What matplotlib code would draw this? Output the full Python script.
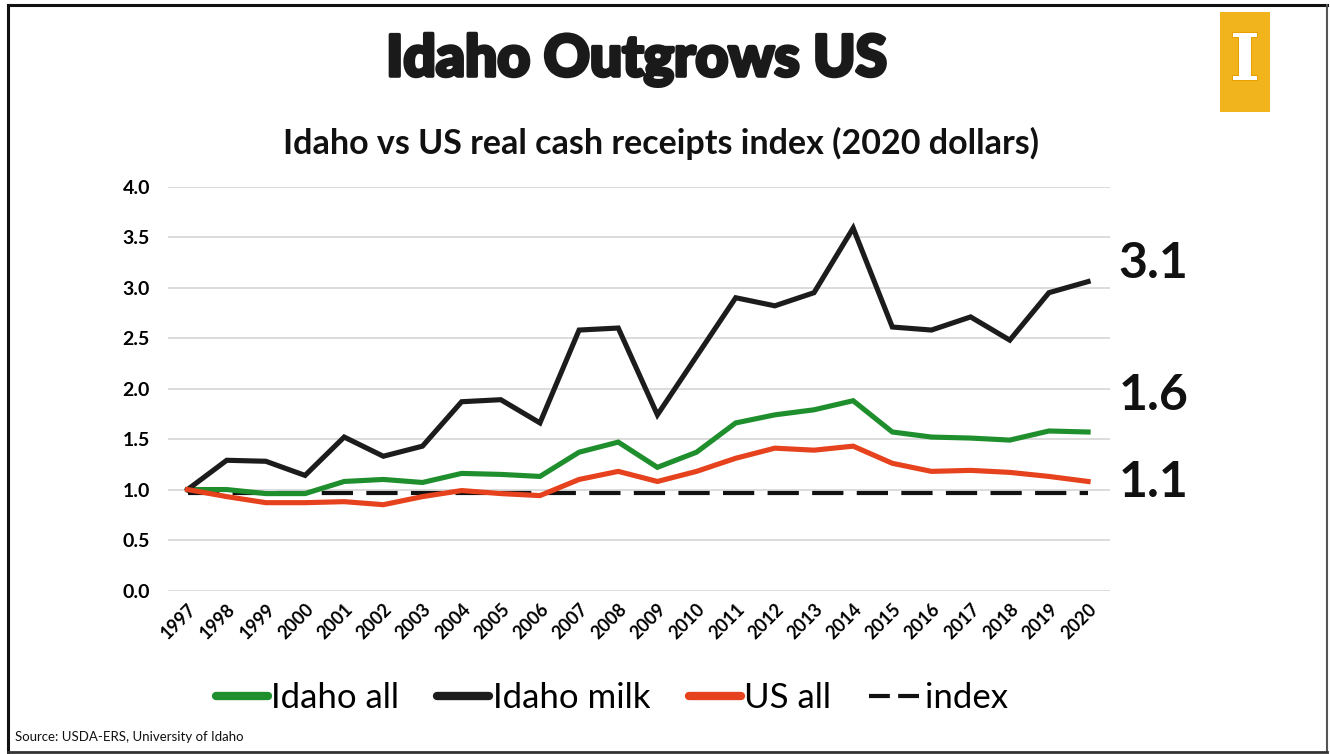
import numpy as np
import matplotlib.pyplot as plt
import matplotlib.patheffects as pe
from matplotlib.patches import Rectangle
from matplotlib.lines import Line2D

# Real cash receipts index, 1997 = 1.0 (2020 dollars)
years = list(range(1997, 2021))
idaho_all = [1.00, 1.00, 0.96, 0.96, 1.08, 1.10, 1.07, 1.16, 1.15, 1.13, 1.37, 1.47,
             1.22, 1.37, 1.66, 1.74, 1.79, 1.88, 1.57, 1.52, 1.51, 1.49, 1.58, 1.57]
idaho_milk = [1.00, 1.29, 1.28, 1.14, 1.52, 1.33, 1.43, 1.87, 1.89, 1.66, 2.58, 2.60,
              1.74, 2.32, 2.90, 2.82, 2.95, 3.59, 2.61, 2.58, 2.71, 2.48, 2.95, 3.06]
us_all = [1.00, 0.93, 0.87, 0.87, 0.88, 0.85, 0.93, 0.99, 0.96, 0.94, 1.10, 1.18,
          1.08, 1.18, 1.31, 1.41, 1.39, 1.43, 1.26, 1.18, 1.19, 1.17, 1.13, 1.08]
index_line = [0.97] * len(years)

series_names = ['Idaho all', 'Idaho milk', 'US all']
series_colors = ['#1f8f2e', '#1c1c1c', '#e5421d']

plt.rcParams['font.family'] = ['Lato', 'DejaVu Sans']

fig = plt.figure(figsize=(13.3, 7.54), dpi=100)
fig.patch.set_facecolor('white')

ax = fig.add_axes([168 / 1330, 1 - 590.5 / 754, (1110 - 168) / 1330, (590.5 - 186.7) / 754])
ax.set_xlim(1996.5, 2020.56)
ax.set_ylim(0, 4)

# gridlines only, no box
ax.set_yticks(np.arange(0, 4.01, 0.5))
ax.yaxis.grid(True, color='#d9d9d9', linewidth=1.3)
ax.set_axisbelow(True)
for s in ax.spines.values():
    s.set_visible(False)
ax.tick_params(axis='both', length=0)
ax.tick_params(axis='y', pad=13)
ax.set_yticklabels([f'{v:.1f}' for v in np.arange(0, 4.01, 0.5)], fontsize=14, fontweight='bold')
ax.set_xticks(years)
ax.set_xticklabels([str(y) for y in years], rotation=45, ha='right', va='top',
                   rotation_mode='anchor', fontsize=13, fontweight='bold')
ax.tick_params(axis='x', pad=7)

ax.plot(years, index_line, color='#111111', linewidth=3, linestyle=(0, (7.5, 3.2)),
        solid_capstyle='butt', zorder=2)
all_series = [idaho_all, idaho_milk, us_all]
for vals, name, col in zip(all_series, series_names, series_colors):
    ax.plot(years, vals, color=col, linewidth=3.7, label=name, zorder=3,
            solid_joinstyle='miter')

# end-of-series values to the right of the plot
label_shift = {'Idaho milk': 18, 'Idaho all': 37, 'US all': -1}
for vals, name in zip(all_series, series_names):
    ax.annotate(f'{vals[-1]:.1f}', xy=(years[-1], vals[-1]), xytext=(22, label_shift[name] * 0.72),
                textcoords='offset points', ha='left', va='center', fontsize=36,
                fontweight='bold', color='#111111', annotation_clip=False)

# legend
handles = [Line2D([], [], color=c, linewidth=6, solid_capstyle='round') for c in series_colors]
handles.append(Line2D([], [], color='#111111', linewidth=3, linestyle=(0, (5, 2))))
fig.legend(handles, series_names + ['index'], loc='center', bbox_to_anchor=(0.46, 1 - 698 / 754),
           ncol=4, frameon=False, fontsize=25, handlelength=1.5, handletextpad=0.1,
           columnspacing=1.1)

# titles
fig.text(0.479, 1 - 60 / 754, 'Idaho Outgrows US', ha='center', va='center',
         fontsize=41, fontweight='black', color='#1a1a1a',
         path_effects=[pe.withStroke(linewidth=2.6, foreground='#1a1a1a')])
fig.text(0.497, 1 - 143 / 754, 'Idaho vs US real cash receipts index (2020 dollars)',
         ha='center', va='center', fontsize=24.5, fontweight='bold', color='#111111')
fig.text(15 / 1330, 1 - 737 / 754, 'Source: USDA-ERS, University of Idaho',
         ha='left', va='center', fontsize=9.5, color='#111111')

# gold block logo in the corner
fig.patches.append(Rectangle((1220 / 1330, 1 - 112 / 754), 50 / 1330, 100 / 754,
                             transform=fig.transFigure, facecolor='#f2b41c', edgecolor='none'))
fig.text(1245 / 1330, 1 - 62 / 754, 'I', ha='center', va='center', fontsize=46,
         fontweight='bold', family='DejaVu Serif', color='white',
         path_effects=[pe.withStroke(linewidth=1.5, foreground='#e8a000')])

# slide border
fig.add_artist(Line2D([8 / 1330, 1327 / 1330], [1 - 5 / 754, 1 - 5 / 754],
                      transform=fig.transFigure, color='#111111', linewidth=2.2))
fig.add_artist(Line2D([8 / 1330, 8 / 1330], [1 - 5 / 754, 1 - 752 / 754],
                      transform=fig.transFigure, color='#111111', linewidth=2.2))
fig.add_artist(Line2D([1327 / 1330, 1327 / 1330], [1 - 5 / 754, 1 - 752 / 754],
                      transform=fig.transFigure, color='#555555', linewidth=1.5))
fig.add_artist(Line2D([8 / 1330, 1327 / 1330], [1 - 752 / 754, 1 - 752 / 754],
                      transform=fig.transFigure, color='#333333', linewidth=2))

plt.savefig('out.png', dpi=100, facecolor='white')
